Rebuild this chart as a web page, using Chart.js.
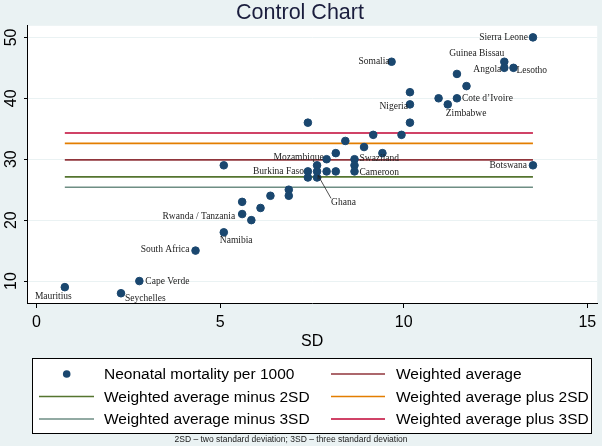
<!DOCTYPE html>
<html>
<head>
<meta charset="utf-8">
<script src="https://cdn.jsdelivr.net/npm/chart.js@4.4.1/dist/chart.umd.min.js"></script>
<style>
  html, body { margin: 0; padding: 0; background: #EAF2F3; }
  canvas { display: block; }
</style>
</head>
<body>
<canvas id="controlChart" width="602" height="446"></canvas>
<script>
// SD per country (x) and neonatal mortality per 1000 (y)
const sdValues = [0.77, 2.3, 2.8, 4.33, 5.1, 5.6, 5.6, 5.85, 6.1, 6.37, 6.87, 6.87, 5.1, 7.39, 7.39,
  7.39, 7.64, 7.64, 7.64, 7.9, 7.9, 8.15, 8.15, 8.41, 8.66, 8.66, 8.66, 8.92, 9.17, 9.42,
  9.67, 9.94, 10.17, 10.17, 10.17, 10.95, 11.2, 11.45, 11.45, 11.71, 12.74, 12.74, 12.99, 13.52, 13.52];
const mortality = [9, 8, 10, 15, 18, 21, 23, 20, 22, 24, 25, 24, 29, 36, 28,
  27, 29, 28, 27, 30, 28, 28, 31, 33, 30, 29, 28, 32, 34, 31,
  46, 34, 41, 39, 36, 40, 39, 40, 44, 42, 46, 45, 45, 50, 29];
const countries = ['Mauritius', 'Seychelles', 'Cape Verde', 'South Africa', 'Namibia', 'Rwanda / Tanzania', '', '', '', '', '', '', '', '', 'Burkina Faso',
  '', '', 'Ghana', '', 'Mozambique', '', '', '', '', 'Swaziland', '', 'Cameroon', '', '', '',
  'Somalia', '', '', 'Nigeria', '', '', 'Zimbabwe', 'Cote d\u2019Ivoire', '', '', 'Guinea Bissau', 'Angola', 'Lesotho', 'Sierra Leone', 'Botswana'];

const controlNames = ['Weighted average', 'Weighted average minus 2SD', 'Weighted average plus 2SD',
  'Weighted average minus 3SD', 'Weighted average plus 3SD'];
const controlValues = [29.9, 27.1, 32.6, 25.4, 34.3];

const xTicks = [0, 5, 10, 15];
const yTicks = [10, 20, 30, 40, 50];

// styling
const controlColors = ['#90353B', '#55752F', '#E37E00', '#6E8E84', '#C10534'];
const labelPlacement = {
  'Mauritius': ['right', 7, 9],
  'Seychelles': ['left', 4, 5],
  'Cape Verde': ['left', 6, 0],
  'South Africa': ['right', -6, -1],
  'Namibia': ['left', -4, 8],
  'Rwanda / Tanzania': ['right', -7, 2],
  'Burkina Faso': ['right', -4, 0],
  'Ghana': ['left', 14, 31],
  'Mozambique': ['right', -3, -2],
  'Swaziland': ['left', 5, -1],
  'Cameroon': ['left', 5, 1],
  'Somalia': ['right', -2, 0],
  'Nigeria': ['right', -2, 2],
  'Zimbabwe': ['left', -2, 9],
  'Cote d\u2019Ivoire': ['left', 5, 0],
  'Guinea Bissau': ['right', 0, -8],
  'Angola': ['right', -3, 2],
  'Lesotho': ['left', 3, 3],
  'Sierra Leone': ['right', -5, 0],
  'Botswana': ['right', -6, 0]
};

const sdMin = Math.min(...sdValues);
const sdMax = Math.max(...sdValues);

const datasets = [{
  type: 'scatter',
  label: 'Neonatal mortality per 1000',
  data: sdValues.map((x, i) => ({x: x, y: mortality[i]})),
  backgroundColor: '#1A476F',
  borderColor: '#1A476F',
  pointRadius: 3.8,
  pointHoverRadius: 3.8
}];
controlNames.forEach((name, i) => {
  datasets.push({
    type: 'line',
    label: name,
    data: [{x: sdMin, y: controlValues[i]}, {x: sdMax, y: controlValues[i]}],
    borderColor: controlColors[i],
    backgroundColor: controlColors[i],
    borderWidth: 1.7,
    pointRadius: 0,
    fill: false
  });
});

const backdrop = {
  id: 'backdrop',
  beforeDraw(chart) {
    const {ctx, chartArea: a} = chart;
    ctx.save();
    ctx.fillStyle = '#EAF2F3';
    ctx.fillRect(0, 0, chart.width, chart.height);
    ctx.fillStyle = '#ffffff';
    ctx.fillRect(a.left, a.top, a.right - a.left, a.bottom - a.top);
    ctx.restore();
  }
};

const yLabels = {
  id: 'yLabels',
  afterDraw(chart) {
    const {ctx} = chart;
    const y = chart.scales.y;
    ctx.save();
    ctx.fillStyle = '#000';
    ctx.font = '16px "Liberation Sans", Arial, sans-serif';
    ctx.textAlign = 'center';
    ctx.textBaseline = 'middle';
    yTicks.forEach(v => {
      ctx.save();
      ctx.translate(12, y.getPixelForValue(v));
      ctx.rotate(-Math.PI / 2);
      ctx.fillText(String(v), 0, 0);
      ctx.restore();
    });
    ctx.restore();
  }
};

const pointLabels = {
  id: 'pointLabels',
  afterDatasetsDraw(chart) {
    const {ctx} = chart;
    const meta = chart.getDatasetMeta(0);
    ctx.save();
    ctx.font = '9.5px "Liberation Serif", "Times New Roman", serif';
    ctx.fillStyle = '#222';
    ctx.textBaseline = 'middle';
    countries.forEach((name, i) => {
      if (!name) return;
      const pt = meta.data[i];
      const p = labelPlacement[name] || ['left', 5, 0];
      ctx.textAlign = p[0];
      ctx.fillText(name, pt.x + p[1], pt.y + p[2]);
      if (name === 'Ghana') {
        ctx.strokeStyle = '#222';
        ctx.lineWidth = 0.8;
        ctx.beginPath();
        ctx.moveTo(pt.x + 1, pt.y + 4);
        ctx.lineTo(pt.x + p[1], pt.y + p[2] - 4);
        ctx.stroke();
        ctx.beginPath();
        ctx.moveTo(pt.x + 1, pt.y + 4);
        ctx.lineTo(pt.x + 1, pt.y + 8);
        ctx.moveTo(pt.x + 1, pt.y + 4);
        ctx.lineTo(pt.x + 4.5, pt.y + 6.5);
        ctx.stroke();
      }
    });
    ctx.restore();
  }
};

const boxLegend = {
  id: 'boxLegend',
  afterDraw(chart) {
    const {ctx} = chart;
    const left = 32, top = 358.5, right = 591, bottom = 433.5;
    ctx.save();
    ctx.fillStyle = '#ffffff';
    ctx.fillRect(left, top, right - left, bottom - top);
    ctx.strokeStyle = '#000';
    ctx.lineWidth = 1;
    ctx.strokeRect(left + 0.5, top, right - left, bottom - top);
    const rows = [374, 396.5, 419];
    const cols = [{line: [39, 94], dot: 66.7, text: 104}, {line: [331, 385], dot: 358, text: 396}];
    ctx.font = '15.5px "Liberation Sans", Arial, sans-serif';
    ctx.textBaseline = 'middle';
    ctx.textAlign = 'left';
    chart.data.datasets.forEach((ds, i) => {
      const c = cols[i % 2];
      const yy = rows[Math.floor(i / 2)];
      if (ds.type === 'scatter') {
        ctx.fillStyle = ds.backgroundColor;
        ctx.beginPath();
        ctx.arc(c.dot, yy, 3.8, 0, Math.PI * 2);
        ctx.fill();
      } else {
        ctx.strokeStyle = ds.borderColor;
        ctx.lineWidth = 1.5;
        ctx.beginPath();
        ctx.moveTo(c.line[0], yy);
        ctx.lineTo(c.line[1], yy);
        ctx.stroke();
      }
      ctx.fillStyle = '#000';
      ctx.fillText(ds.label, c.text, yy + 1);
    });
    ctx.font = '8.5px "Liberation Sans", Arial, sans-serif';
    ctx.textAlign = 'center';
    ctx.fillStyle = '#222';
    ctx.fillText('2SD \u2013 two standard deviation; 3SD \u2013 three standard deviation', 291, 440);
    ctx.restore();
  }
};

new Chart(document.getElementById('controlChart'), {
  type: 'scatter',
  data: {datasets: datasets},
  options: {
    responsive: false,
    animation: false,
    events: [],
    layout: {padding: {left: 0, right: 2, top: 0, bottom: 90}},
    plugins: {
      legend: {display: false},
      tooltip: {enabled: false},
      title: {
        display: true,
        text: 'Control Chart',
        color: '#1a1d3d',
        font: {family: '"Liberation Sans", Arial, sans-serif', size: 21.5, weight: 'normal', lineHeight: 1.2},
        padding: {top: 0, bottom: 0}
      }
    },
    scales: {
      x: {
        type: 'linear',
        min: -0.26,
        max: 15.27,
        afterBuildTicks: s => { s.ticks = xTicks.map(v => ({value: v})); },
        afterFit: s => { s.height = 53; },
        grid: {drawOnChartArea: false, drawTicks: true, tickLength: 5, tickColor: '#000'},
        border: {display: true, color: '#000', width: 1},
        ticks: {color: '#000', padding: 5, maxRotation: 0, font: {family: '"Liberation Sans", Arial, sans-serif', size: 16}},
        title: {display: true, text: 'SD', color: '#000', padding: {top: 0, bottom: 5},
          font: {family: '"Liberation Sans", Arial, sans-serif', size: 16}}
      },
      y: {
        type: 'linear',
        min: 6.4,
        max: 51.9,
        afterBuildTicks: s => { s.ticks = yTicks.map(v => ({value: v})); },
        afterFit: s => { s.width = 27; },
        grid: {color: '#EAF2F3', lineWidth: 1, drawTicks: true, tickLength: 3, tickColor: '#000'},
        border: {display: true, color: '#000', width: 1},
        ticks: {display: false}
      }
    }
  },
  plugins: [backdrop, yLabels, pointLabels, boxLegend]
});
</script>
</body>
</html>
